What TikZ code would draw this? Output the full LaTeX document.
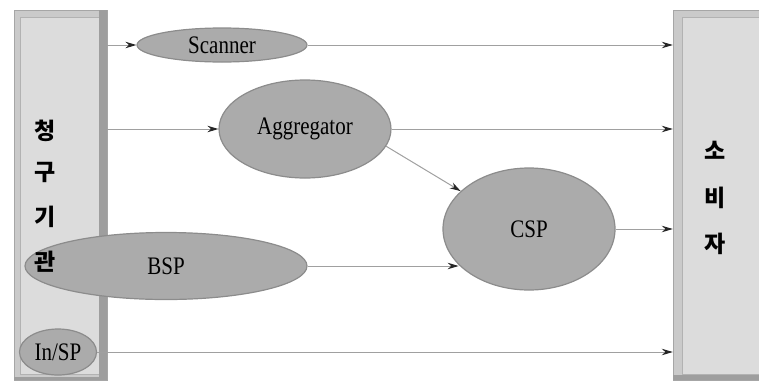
\documentclass[tikz,border=0pt]{standalone}
\usepackage{fontspec}
\setmainfont{Liberation Serif}
\newfontfamily\kr{Noto Sans CJK KR}
\usetikzlibrary{shapes.geometric,arrows.meta}
\definecolor{ovalfill}{HTML}{ABABAB}
\definecolor{ovaldraw}{HTML}{8C8C8C}
\definecolor{barframe}{HTML}{CACACA}
\definecolor{barin}{HTML}{DCDCDC}
\definecolor{barside}{HTML}{9E9E9E}
\definecolor{linegray}{HTML}{A0A0A0}
\begin{document}
\begin{tikzpicture}[x=1pt,y=-1pt,
  oval/.style={ellipse,draw=ovaldraw,line width=1.2pt,fill=ovalfill,inner sep=0pt,
    font=\fontsize{21}{25}\selectfont},
  bar/.style={rectangle,draw=gray!70,fill=barframe,inner sep=0pt,minimum width=#1,minimum height=370},
  krtext/.style={font=\kr\bfseries\fontsize{23}{27}\selectfont,inner sep=0pt},
  flow/.style={draw=linegray,line width=1pt,-{Stealth[length=11pt,width=6.5pt,color=black!85]}}]
\useasboundingbox (0,0) rectangle (759,383);
% bars
\node[bar=93] (req) at (60.5,195) {};
\fill[barin] ([xshift=6,yshift=-7]req.north west) rectangle ([xshift=-8,yshift=6]req.south east);
\draw[gray!60] ([xshift=6,yshift=-7]req.north west) rectangle ([xshift=-8,yshift=6]req.south east);
\fill[barside] ([xshift=-8]req.north east) rectangle (req.south east);
\fill[barside] ([yshift=3]req.south west) rectangle (req.south east);
\node[bar=86] (cons) at (716,195) {};
\fill[barin] ([xshift=9,yshift=-7]cons.north west) rectangle ([yshift=6]cons.south east);
\draw[gray!60] ([xshift=9,yshift=-7]cons.north west) rectangle ([yshift=6]cons.south east);
\fill[barside] ([yshift=5]cons.south west) rectangle (cons.south east);
% ovals
\node[oval,minimum width=170,minimum height=34] (scan) at (222,45) {\scalebox{1}[1.2]{Scanner}};
\node[oval,minimum width=172,minimum height=98] (agg) at (305,129) {\scalebox{1}[1.2]{Aggregator}};
\node[oval,minimum width=172,minimum height=122] (csp) at (529,229) {\scalebox{1}[1.2]{CSP}};
\node[oval,minimum width=282,minimum height=67] (bsp) at (166,266) {\scalebox{1}[1.2]{BSP}};
\node[oval,minimum width=77,minimum height=46] (insp) at (58,352) {\scalebox{1}[1.2]{In/SP}};
% korean labels
\node[krtext] (k1) at (45,131) {청};
\node[krtext] (k2) at (45,172) {구};
\node[krtext] (k3) at (45,217) {기};
\node[krtext] (k4) at (45,262) {관};
\node[krtext] (c1) at (715,150) {소};
\node[krtext] (c2) at (715,198) {비};
\node[krtext] (c3) at (715,244) {자};
% connectors
\draw[flow] (req.east |- scan.west) -- (scan.west);
\draw[flow] (scan.east) -- (scan.east -| cons.west);
\draw[flow] (req.east |- agg.west) -- (agg.west);
\draw[flow] (agg.east) -- (agg.east -| cons.west);
\draw[flow] (agg.-12) -- (csp.151);
\draw[flow] (bsp.east) -- (bsp.east -| csp.207);
\draw[flow] (csp.east) -- (csp.east -| cons.west);
\draw[flow] (insp.east) -- (insp.east -| cons.west);
\end{tikzpicture}
\end{document}
